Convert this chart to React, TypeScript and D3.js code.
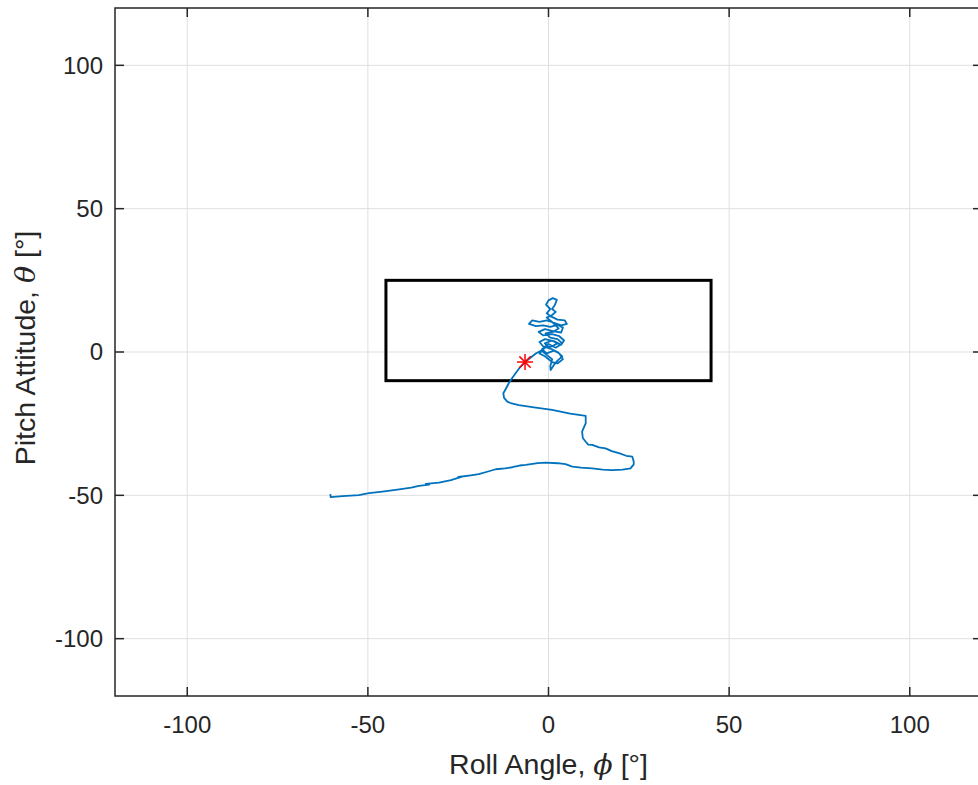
import React from "react";
import { scaleLinear, line } from "d3";

const width = 978;
const height = 785;
const margin = { top: 8, left: 115, bottom: 89, right: -4 };

const innerWidth = width - margin.left - margin.right;
const innerHeight = height - margin.top - margin.bottom;

// axis limits and ticks
const xDomain = [-120, 120];
const yDomain = [-120, 120];
const xTicks = [-100, -50, 0, 50, 100];
const yTicks = [-100, -50, 0, 50, 100];

// attitude envelope (box)
const boxRoll = [-45, 45];
const boxPitch = [-10, 25];

// start marker
const markerRoll = -6.5;
const markerPitch = -3.5;

// trajectory
const rollAngle = [
  -60.4, -60.3, -57, -52.5, -49.7, -46, -42.3, -38, -35.9, -33, -34, -30.3, -27, -23.9, -25,
  -21.5, -19.3, -16.5, -14.6, -12, -10, -8, -6.3, -3, -0.8, 2.5, 4.7, 6.6, 9, 12.1, 15, 17.6,
  20.5, 22.7, 23.6, 23.6, 23.2, 21.5, 19.5, 17.5, 15.8, 14, 12.1, 11, 10.3, 9.5, 9.3, 9.8,
  10.3, 10.3, 6, 1, -4, -8.2, -10.5, -11.4, -12.3, -12.5, -11.8, -11, -10, -9.1, -8, -6.5,
  -5, -3.5, -2, -0.5, 1, 0.5, 0.6, 1.5, 2.5, 3.8, 2.5, 0.5, -1.5, -2.5, -1, 1.5, 3.5, 4.3, 3,
  1, -1.5, -2.7, -1, 1.5, 3.5, 4, 2.5, 0.5, -1.5, -3.5, -5.4, -4.5, -2.5, -0.5, 1.5, 3.5, 5.1,
  4.5, 2.5, 0.5, -0.5, 0.5, -0.7, 0, 1.2, 2.3, 1.8, 1, 2, 1, -0.5, 1, 2.8, 1.2, -0.8, 0.5, 2.5,
  3.8, 2, 0, -1.8, -0.5, 1.5, 3, 4, 2.5, 1, -1, -2.5, -1, 1, 2.5, 1, -1, 0.5,
];
const pitchAttitude = [
  -49.6, -50.6, -50.3, -49.9, -49.2, -48.7, -48.1, -47.3, -46.7, -46.3, -46, -45.6, -44.7,
  -43.5, -43.6, -43, -42.6, -41.6, -40.9, -40.6, -40.2, -39.6, -39.4, -38.8, -38.6, -38.8,
  -39.1, -40, -40.3, -40.6, -41, -41.2, -41, -40.6, -39.2, -38.3, -36.5, -36.2, -35.3, -34.6,
  -33.6, -33.3, -32.4, -32.3, -31.3, -30, -27.8, -26.3, -24.9, -22.3, -21.5, -20.2, -19.3,
  -18.5, -17.8, -17.3, -16, -14.4, -12.8, -10.9, -9, -7.4, -5.5, -3.5, -2, -0.5, 0.5, -1,
  -2.5, -5, -6.3, -4.5, -3, -1.5, 0, 1.2, 2, 3.5, 4.5, 3.8, 2.5, 4, 5.5, 6.2, 5.8, 7, 8, 7.2,
  6.8, 8.5, 9.5, 8.8, 9.3, 9, 9.8, 11, 10.5, 11, 10.2, 9.3, 9.8, 11, 11.3, 12.5, 13.5, 15,
  16.5, 18, 18.8, 18.2, 16.5, 15, 14, 12.9, 12, 10.5, 8.2, 7, 6.5, 5, 4.5, 3, 1.5, 2.8, 1,
  -0.5, 0.5, -0.5, -2.5, -4, -3.5, -1.5, -0.5, 1.5, 2, 3, 4, 3, 1,
];

const axisColor = "#262626";
const gridColor = "#dfdfdf";
const font = "Arial, 'Liberation Sans', Helvetica, sans-serif";

const xScale = scaleLinear().domain(xDomain).range([0, innerWidth]);
const yScale = scaleLinear().domain(yDomain).range([innerHeight, 0]);

const Star = ({ x, y, r }: { x: number; y: number; r: number }) => {
  const d = r * Math.SQRT1_2;
  return (
    <g transform={`translate(${x},${y})`} stroke="#ff0000" strokeWidth={1.5}>
      <line x1={-r} x2={r} y1={0} y2={0} />
      <line x1={0} x2={0} y1={-r} y2={r} />
      <line x1={-d} x2={d} y1={-d} y2={d} />
      <line x1={-d} x2={d} y1={d} y2={-d} />
    </g>
  );
};

export default function App() {
  const points: [number, number][] = rollAngle.map((r, i) => [r, pitchAttitude[i]]);
  const path = line<[number, number]>()
    .x((d) => xScale(d[0]))
    .y((d) => yScale(d[1]))(points);

  const tickLen = 9;

  return (
    <svg
      width={width}
      height={height}
      style={{ position: "absolute", left: 0, top: 0, background: "#fff" }}
    >
      <rect width={width} height={height} fill="#fff" />
      <g transform={`translate(${margin.left},${margin.top})`}>
        {/* grid */}
        {xTicks.map((t) => (
          <line key={`gx${t}`} x1={xScale(t)} x2={xScale(t)} y1={0} y2={innerHeight} stroke={gridColor} strokeWidth={1} />
        ))}
        {yTicks.map((t) => (
          <line key={`gy${t}`} x1={0} x2={innerWidth} y1={yScale(t)} y2={yScale(t)} stroke={gridColor} strokeWidth={1} />
        ))}

        {/* envelope */}
        <rect
          x={xScale(boxRoll[0])}
          y={yScale(boxPitch[1])}
          width={xScale(boxRoll[1]) - xScale(boxRoll[0])}
          height={yScale(boxPitch[0]) - yScale(boxPitch[1])}
          fill="none"
          stroke="#000"
          strokeWidth={3}
        />

        {/* trajectory */}
        <path d={path ?? ""} fill="none" stroke="#0072bd" strokeWidth={1.8} strokeLinejoin="round" />

        <Star x={xScale(markerRoll)} y={yScale(markerPitch)} r={8} />

        {/* axes box */}
        <rect x={0} y={0} width={innerWidth} height={innerHeight} fill="none" stroke={axisColor} strokeWidth={1.5} />
        {xTicks.map((t) => (
          <g key={`tx${t}`}>
            <line x1={xScale(t)} x2={xScale(t)} y1={innerHeight} y2={innerHeight - tickLen} stroke={axisColor} strokeWidth={1.5} />
            <line x1={xScale(t)} x2={xScale(t)} y1={0} y2={tickLen} stroke={axisColor} strokeWidth={1.5} />
            <text
              x={xScale(t)}
              y={innerHeight + 37}
              textAnchor="middle"
              fontFamily={font}
              fontSize={24}
              fill={axisColor}
            >
              {t}
            </text>
          </g>
        ))}
        {yTicks.map((t) => (
          <g key={`ty${t}`}>
            <line x1={0} x2={tickLen} y1={yScale(t)} y2={yScale(t)} stroke={axisColor} strokeWidth={1.5} />
            <line x1={innerWidth} x2={innerWidth - tickLen} y1={yScale(t)} y2={yScale(t)} stroke={axisColor} strokeWidth={1.5} />
            <text
              x={-12}
              y={yScale(t)}
              dy="0.35em"
              textAnchor="end"
              fontFamily={font}
              fontSize={24}
              fill={axisColor}
            >
              {t}
            </text>
          </g>
        ))}

        {/* axis labels */}
        <text
          x={xScale(0)}
          y={innerHeight + 78}
          textAnchor="middle"
          fontFamily={font}
          fontSize={28.5}
          fill={axisColor}
        >
          Roll Angle, <tspan fontStyle="italic" fontFamily="'DejaVu Serif', serif">ϕ</tspan> [°]
        </text>
        <text
          transform={`translate(${35 - margin.left},${yScale(0) - 4}) rotate(-90)`}
          textAnchor="middle"
          fontFamily={font}
          fontSize={28.5}
          fill={axisColor}
        >
          Pitch Attitude, <tspan fontStyle="italic" fontFamily="'DejaVu Serif', serif">θ</tspan> [°]
        </text>
      </g>
    </svg>
  );
}
